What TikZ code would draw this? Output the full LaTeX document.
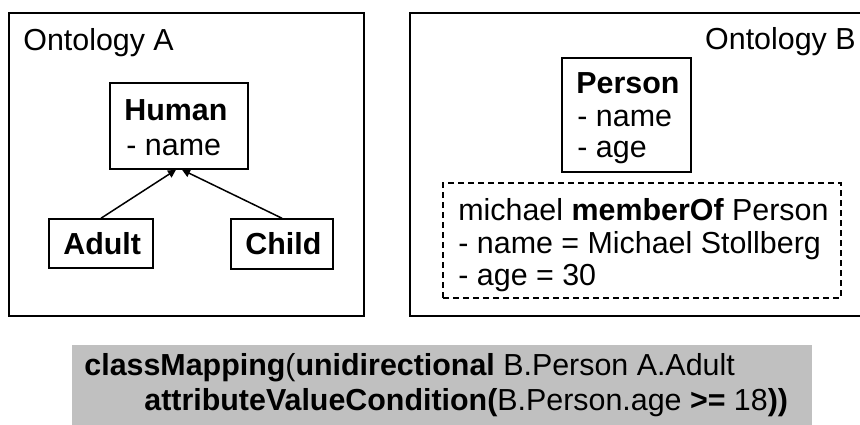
\documentclass[tikz,border=0pt]{standalone}
\usepackage{fontspec}
\setmainfont{Liberation Sans}
\usetikzlibrary{fit,arrows.meta}
\definecolor{mapgray}{HTML}{C0C0C0}
\tikzset{
  box/.style={draw=black, line width=0.75pt, inner sep=0pt, fill=none},
  dbox/.style={draw=black, line width=0.75pt, inner sep=0pt, dash pattern=on 3pt off 2pt},
  txt/.style={inner sep=0pt, anchor=base west, font=\fontsize{15.2}{17}\selectfont},
  txte/.style={inner sep=0pt, anchor=base east, font=\fontsize{15.2}{17}\selectfont},
  isa/.style={line width=0.75pt, -{Triangle[length=4pt,width=4pt]}},
}
\begin{document}
\begin{tikzpicture}[x=0.5pt,y=-0.5pt]
\useasboundingbox (0,0) rectangle (860,424);
\clip (0,0) rectangle (860,424);
% Ontology A
\node[box, fit={(9,13) (364,316)}] (ontA) {};
\node[txt] (ontAT) at (23,50) {Ontology A};
\node[box, fit={(110,83) (248,169)}] (human) {};
\node[txt] (humanT) at (124,120) {\bfseries Human};
\node[txt] (humanA) at (126,155) {- name};
\node[box, fit={(49,219) (153,268)}] (adult) {};
\node[txt] (adultT) at (63,254) {\bfseries Adult};
\node[box, fit={(231,219) (333,269)}] (child) {};
\node[txt] (childT) at (245,254) {\bfseries Child};
\coordinate (hA) at ([xshift=-1.5pt]human.south);
\coordinate (hC) at ([xshift=1.5pt]human.south);
\draw[isa] (adult.north) -- (hA);
\draw[isa] (child.north) -- (hC);
% Ontology B
\node[box, fit={(410,13) (880,316)}] (ontB) {};
\node[txte] (ontBT) at (856,49) {Ontology B};
\node[box, fit={(562,58) (691,172)}] (person) {};
\node[txt] (personT) at (576,93) {\bfseries Person};
\node[txt] (personA) at (577,126) {- name};
\node[txt] (personB) at (577,157) {- age};
\node[dbox, fit={(443,183) (841,298)}] (inst) {};
\node[txt] (instT) at (458,220) {michael \textbf{memberOf} Person};
\node[txt] (instA) at (458,253) {- name = Michael Stollberg};
\node[txt] (instB) at (458,285) {- age = 30};
% Mapping
\node[inner sep=0pt, fill=mapgray, fit={(72,345) (812,430)}] (map) {};
\node[txt] (mapA) at (84,375) {\textbf{classMapping}(\textbf{unidirectional} B.Person A.Adult};
\node[txt] (mapB) at (144,410) {\textbf{attributeValueCondition(}B.Person.age \textbf{>=} 18\textbf{))}};
\end{tikzpicture}
\end{document}
